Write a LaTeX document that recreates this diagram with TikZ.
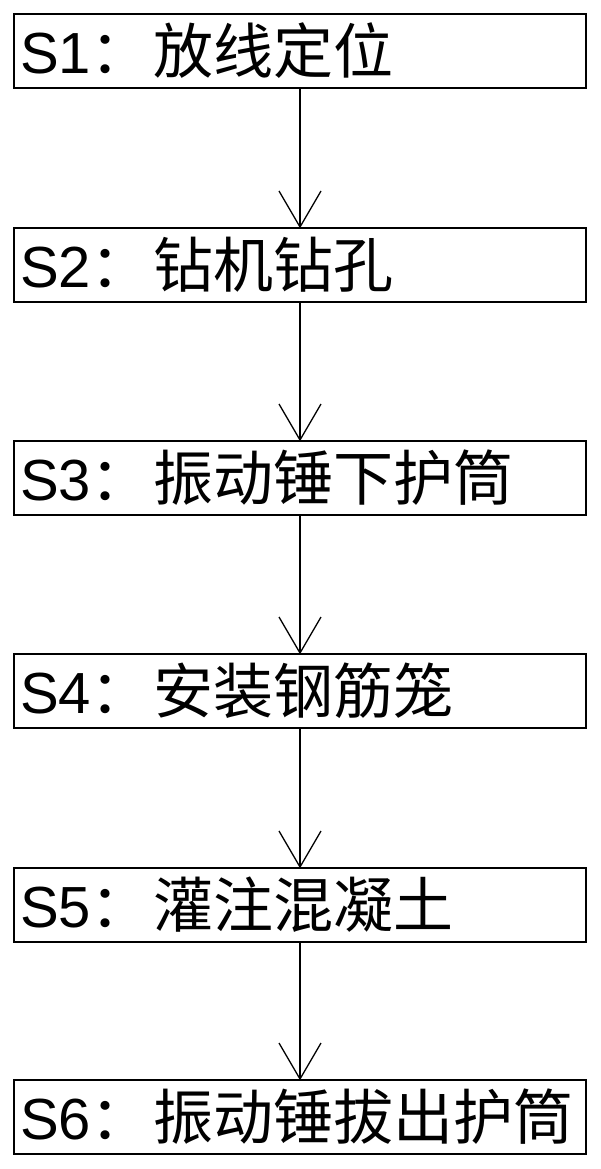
\documentclass[tikz,border=0pt]{standalone}
\usepackage{fontspec}
\setmainfont{Liberation Sans}
\newfontfamily\cjk{Noto Sans CJK SC}
\newcommand{\zh}[1]{{\cjk\fontsize{60pt}{62pt}\selectfont ：\hspace{3pt}#1}}
\usetikzlibrary{calc}
\tikzset{
  stepbox/.style={draw=black, line width=2pt, rectangle, minimum width=572pt, minimum height=74pt,
    text width=560pt, inner xsep=6pt, inner ysep=0pt, align=left,
    font=\fontsize{58pt}{60pt}\selectfont, anchor=north west},
  link/.style={draw=black, line width=1.3pt},
}
\begin{document}
\begin{tikzpicture}[x=1pt,y=-1pt]
\useasboundingbox (0,0) rectangle (600,1169);
\node[stepbox] (s1) at (13,13)   {S1\zh{放线定位}};
\node[stepbox] (s2) at (13,227)  {S2\zh{钻机钻孔}};
\node[stepbox] (s3) at (13,440)  {S3\zh{振动锤下护筒}};
\node[stepbox] (s4) at (13,653)  {S4\zh{安装钢筋笼}};
\node[stepbox] (s5) at (13,867)  {S5\zh{灌注混凝土}};
\node[stepbox] (s6) at (13,1079) {S6\zh{振动锤拔出护筒}};
\foreach \a/\b in {s1/s2,s2/s3,s3/s4,s4/s5,s5/s6}{
  \draw[link] (\a.south) -- (\b.north);
  \draw[link] ($(\b.north)+(-21,-36)$) -- (\b.north) -- ($(\b.north)+(21,-36)$);
}
\end{tikzpicture}
\end{document}
